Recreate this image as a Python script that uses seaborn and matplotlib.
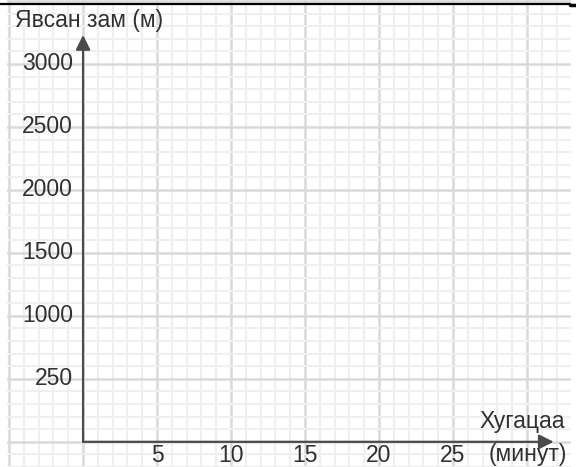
import matplotlib
matplotlib.use("Agg")
import matplotlib.pyplot as plt
from matplotlib.lines import Line2D
import seaborn as sns
import numpy as np

# chart content
x_title = "Хугацаа"
x_unit = "(минут)"
y_title = "Явсан зам (м)"
x_tick_values = [5, 10, 15, 20, 25]
x_tick_labels = ["5", "10", "15", "20", "25"]
y_tick_values = [500, 1000, 1500, 2000, 2500, 3000]
y_tick_labels = ["250", "1000", "1500", "2000", "2500", "3000"]

sns.set_theme(style="whitegrid")
plt.rcParams["font.family"] = ["Liberation Sans", "DejaVu Sans"]

TEXT = "#303030"
AXIS = "#4a4a4a"
FS = 16.5

fig = plt.figure(figsize=(5.76, 4.67), dpi=100)
# grid paper spans px 7..571 horizontally
ax = fig.add_axes([7 / 576, 0, 564 / 576, 1])
ax.set_facecolor("white")

ax.set_xlim(-5.14, 32.97)
ax.set_ylim(-198, 3508)

# grid: major every 5 min / 500 m, minor every 1 min / 100 m
ax.set_xticks(np.arange(-5, 35, 5))
ax.set_xticks(np.arange(-5, 33, 1), minor=True)
ax.set_yticks(np.arange(0, 3600, 500))
ax.set_yticks(np.arange(-200, 3600, 100), minor=True)
ax.grid(which="minor", color="#efefef", lw=1.5)
ax.grid(which="major", color="#d9d9d9", lw=1.8)
ax.set_axisbelow(True)
ax.tick_params(which="both", length=0, labelbottom=False, labelleft=False)
for s in ax.spines.values():
    s.set_visible(False)

# axis arrows
arrow = dict(arrowstyle="-|>", mutation_scale=22, color=AXIS, lw=1.6,
             shrinkA=0, shrinkB=0)
ax.annotate("", xy=(31.8, 0), xytext=(0, 0), arrowprops=arrow)
ax.annotate("", xy=(0, 3230), xytext=(0, 0), arrowprops=arrow)

# tick labels
for v, lab in zip(x_tick_values, x_tick_labels):
    ax.text(v, -112, lab, ha="center", va="center", fontsize=FS, color=TEXT)
for v, lab in zip(y_tick_values, y_tick_labels):
    ax.text(-0.68, v, lab, ha="right", va="center", fontsize=FS, color=TEXT)

ax.text(32.57, 159, x_title, ha="right", va="center", fontsize=FS, color=TEXT)
ax.text(32.7, -100, x_unit, ha="right", va="center", fontsize=FS, color=TEXT)
fig.text(15 / 576, 1 - 20 / 467, y_title, ha="left", va="center",
         fontsize=FS, color=TEXT)

# frame remnant at the top
fig.add_artist(Line2D([0, 570 / 576], [1 - 3.5 / 467] * 2, color="black", lw=1.6))
fig.add_artist(Line2D([570 / 576, 1], [1 - 5 / 467] * 2, color="black", lw=2.5))

fig.savefig("out.png", dpi=100)
